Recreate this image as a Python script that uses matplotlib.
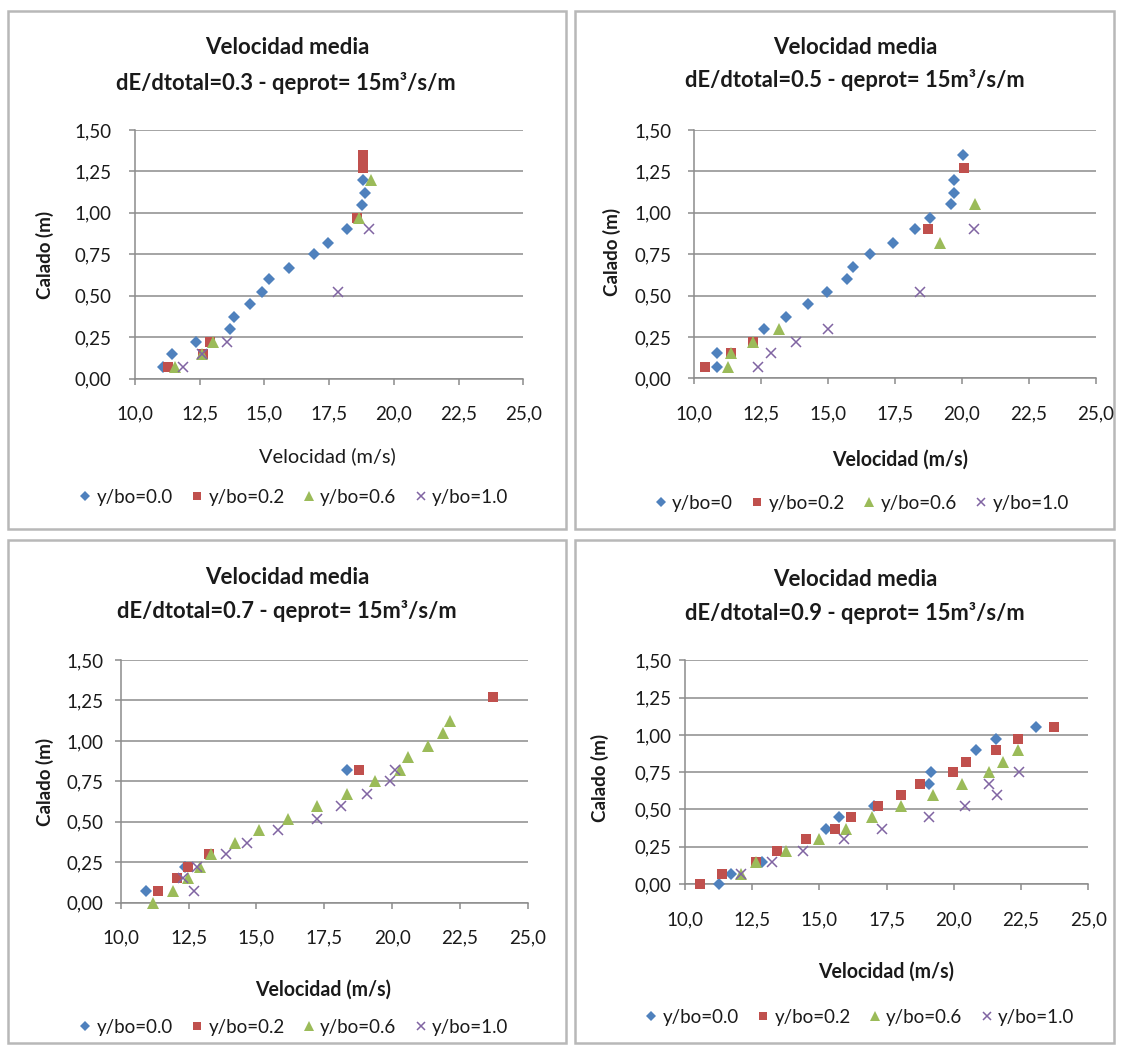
import matplotlib
matplotlib.use("Agg")
import matplotlib.pyplot as plt
from matplotlib.patches import Rectangle

plt.rcParams['font.family'] = ['Lato', 'DejaVu Sans']

# ---------------- data ----------------
x_ticks = [10.0, 12.5, 15.0, 17.5, 20.0, 22.5, 25.0]
x_ticklabels = ["10,0", "12,5", "15,0", "17,5", "20,0", "22,5", "25,0"]
y_ticks = [0.0, 0.25, 0.5, 0.75, 1.0, 1.25, 1.5]
y_ticklabels = ["0,00", "0,25", "0,50", "0,75", "1,00", "1,25", "1,50"]

ratios = ["0.3", "0.5", "0.7", "0.9"]
series_labels_a = ["y/bo=0.0", "y/bo=0.2", "y/bo=0.6", "y/bo=1.0"]
series_labels_b = ["y/bo=0", "y/bo=0.2", "y/bo=0.6", "y/bo=1.0"]

# dE/dtotal = 0.3
p03_b_v = [11.09, 11.42, 12.36, 13.67, 13.82, 14.43, 14.89, 15.18, 15.94, 16.91, 17.44, 18.20, 18.77, 18.90, 18.82]
p03_b_d = [0.07, 0.15, 0.22, 0.30, 0.37, 0.45, 0.52, 0.60, 0.67, 0.75, 0.82, 0.90, 1.05, 1.12, 1.20]
p03_r_v = [11.29, 12.64, 12.90, 18.56, 18.82, 18.82, 18.82]
p03_r_d = [0.07, 0.15, 0.22, 0.97, 1.27, 1.31, 1.35]
p03_g_v = [11.55, 12.58, 13.03, 18.66, 19.10]
p03_g_d = [0.07, 0.15, 0.22, 0.97, 1.20]
p03_p_v = [11.84, 12.58, 13.54, 17.83, 19.03]
p03_p_d = [0.07, 0.15, 0.22, 0.52, 0.90]

# dE/dtotal = 0.5
p05_b_v = [10.87, 10.87, 12.61, 13.45, 14.26, 14.97, 15.71, 15.96, 16.56, 17.43, 18.27, 18.82, 19.59, 19.72, 19.72, 20.06]
p05_b_d = [0.07, 0.15, 0.30, 0.37, 0.45, 0.52, 0.60, 0.67, 0.75, 0.82, 0.90, 0.97, 1.05, 1.12, 1.20, 1.35]
p05_r_v = [10.44, 11.39, 12.20, 18.73, 20.07]
p05_r_d = [0.07, 0.15, 0.22, 0.90, 1.27]
p05_g_v = [11.30, 11.40, 12.20, 13.19, 19.17, 20.50]
p05_g_d = [0.07, 0.15, 0.22, 0.30, 0.82, 1.05]
p05_p_v = [12.39, 12.88, 13.82, 15.00, 18.45, 20.47]
p05_p_d = [0.07, 0.15, 0.22, 0.30, 0.52, 0.90]

# dE/dtotal = 0.7
p07_b_v = [10.93, 12.37, 18.35]
p07_b_d = [0.07, 0.22, 0.82]
p07_r_v = [11.39, 12.06, 12.47, 13.26, 18.79, 23.72]
p07_r_d = [0.07, 0.15, 0.22, 0.30, 0.82, 1.27]
p07_g_v = [11.20, 11.91, 12.49, 12.92, 13.31, 14.21, 15.10, 16.17, 17.22, 18.32, 19.38, 20.29, 20.59, 21.33, 21.88, 22.13]
p07_g_d = [0.00, 0.07, 0.15, 0.22, 0.30, 0.37, 0.45, 0.52, 0.60, 0.67, 0.75, 0.82, 0.90, 0.97, 1.05, 1.12]
p07_p_v = [12.70, 12.28, 12.80, 13.88, 14.64, 15.80, 17.24, 18.10, 19.06, 19.92, 20.10]
p07_p_d = [0.07, 0.15, 0.22, 0.30, 0.37, 0.45, 0.52, 0.60, 0.67, 0.75, 0.82]

# dE/dtotal = 0.9
p09_b_v = [11.28, 11.70, 12.85, 15.23, 15.72, 17.04, 19.08, 19.15, 20.82, 21.56, 23.05]
p09_b_d = [0.00, 0.07, 0.15, 0.37, 0.45, 0.52, 0.67, 0.75, 0.90, 0.97, 1.05]
p09_r_v = [10.56, 11.39, 12.64, 13.41, 14.49, 15.58, 16.16, 17.19, 18.05, 18.74, 19.95, 20.45, 21.56, 22.37, 23.73]
p09_r_d = [0.00, 0.07, 0.15, 0.22, 0.30, 0.37, 0.45, 0.52, 0.60, 0.67, 0.75, 0.82, 0.90, 0.97, 1.05]
p09_g_v = [12.08, 12.64, 13.75, 14.99, 15.97, 16.96, 18.03, 19.23, 20.32, 21.30, 21.81, 22.37]
p09_g_d = [0.07, 0.15, 0.22, 0.30, 0.37, 0.45, 0.52, 0.60, 0.67, 0.75, 0.82, 0.90]
p09_p_v = [12.08, 13.22, 14.40, 15.92, 17.31, 19.08, 20.43, 21.61, 21.30, 22.43]
p09_p_d = [0.07, 0.15, 0.22, 0.30, 0.37, 0.45, 0.52, 0.60, 0.67, 0.75]

# ---------------- layout (pixels) ----------------
W, H = 1123, 1052
fig = plt.figure(figsize=(W / 100, H / 100), dpi=100)
fig.patch.set_facecolor('white')

def fx(p):
    return p / W

def fy(p):
    return 1 - p / H

COLORS = ['#4F81BD', '#C0504D', '#9BBB59', '#8064A2']
GRAY = '#8C8C8C'
TXT = '#1a1a1a'

panels = [
    dict(series=[(p03_b_v, p03_b_d), (p03_r_v, p03_r_d), (p03_g_v, p03_g_d), (p03_p_v, p03_p_d)],
         labels=series_labels_a, ratio=ratios[0],
         box=(8, 11, 566, 529), ax=(135, 130, 523.3, 378.5),
         t1=(287, 47), t2=(286, 83), ylab=(45, 255), xlab=(327, 456), xbold=False,
         leg=(294, 497), ypad=17),
    dict(series=[(p05_b_v, p05_b_d), (p05_r_v, p05_r_d), (p05_g_v, p05_g_d), (p05_p_v, p05_p_d)],
         labels=series_labels_b, ratio=ratios[1],
         box=(575, 11, 1114, 529), ax=(693.5, 130, 1096, 378.3),
         t1=(855, 47), t2=(855, 80), ylab=(612, 252), xlab=(900, 460), xbold=True,
         leg=(862, 503), ypad=16),
    dict(series=[(p07_b_v, p07_b_d), (p07_r_v, p07_r_d), (p07_g_v, p07_g_d), (p07_p_v, p07_p_d)],
         labels=series_labels_a, ratio=ratios[2],
         box=(8, 540, 566, 1043), ax=(120.7, 660, 527.9, 902.7),
         t1=(287, 578), t2=(287, 611), ylab=(45, 782), xlab=(323, 990), xbold=True,
         leg=(294, 1027), ypad=11),
    dict(series=[(p09_b_v, p09_b_d), (p09_r_v, p09_r_d), (p09_g_v, p09_g_d), (p09_p_v, p09_p_d)],
         labels=series_labels_a, ratio=ratios[3],
         box=(575, 540, 1114, 1043), ax=(685, 660.4, 1088.3, 884),
         t1=(855, 580), t2=(855, 613), ylab=(600, 778), xlab=(886, 972), xbold=True,
         leg=(860, 1017), ypad=7),
]

markers = [dict(marker='D', ms=6.3, mew=0),
           dict(marker='s', ms=7.8, mew=0),
           dict(marker='^', ms=8.8, mew=0),
           dict(marker='x', ms=7.8, mew=1.1)]

renderer = fig.canvas.get_renderer()

def fit(t, target_w):
    bb = t.get_window_extent(renderer)
    t.set_fontsize(t.get_fontsize() * target_w / bb.width)

for p in panels:
    bx0, by0, bx1, by1 = p['box']
    fig.add_artist(Rectangle((fx(bx0), fy(by1)), (bx1 - bx0) / W, (by1 - by0) / H,
                             transform=fig.transFigure, fill=False,
                             edgecolor='#B8B8B8', lw=1.8, zorder=0))
    l, t, r, b = p['ax']
    ax = fig.add_axes([fx(l), fy(b), (r - l) / W, (b - t) / H])
    ax.set_xlim(10, 25)
    ax.set_ylim(0, 1.5)
    for (v, d), c, m, lab in zip(p['series'], COLORS, markers, p['labels']):
        ax.plot(v, d, linestyle='none', color=c, markerfacecolor=c,
                markeredgecolor=c, label=lab, clip_on=False, zorder=3, **m)
    ax.set_xticks(x_ticks)
    ax.set_xticklabels(x_ticklabels)
    ax.set_yticks(y_ticks)
    ax.set_yticklabels(y_ticklabels)
    ax.grid(axis='y', color=GRAY, lw=1.1, zorder=0)
    ax.set_axisbelow(True)
    for s in ['top', 'right']:
        ax.spines[s].set_visible(False)
    for s in ['left', 'bottom']:
        ax.spines[s].set_color(GRAY)
        ax.spines[s].set_linewidth(1.1)
    ax.tick_params(axis='both', direction='out', length=4.5, width=1.1, color=GRAY,
                   labelsize=13.5, labelcolor=TXT)
    ax.tick_params(axis='x', pad=15)
    ax.tick_params(axis='y', pad=p['ypad'] * 0.72)

    tt1 = fig.text(fx(p['t1'][0]), fy(p['t1'][1]), "Velocidad media", ha='center', va='center',
                   fontsize=15, fontweight='bold', color=TXT)
    fit(tt1, 165)
    tt2 = fig.text(fx(p['t2'][0]), fy(p['t2'][1]),
                   "dE/dtotal=" + p['ratio'] + " - qeprot= 15m³/s/m",
                   ha='center', va='center', fontsize=15, fontweight='bold', color=TXT)
    fit(tt2, 340)
    yl = fig.text(fx(p['ylab'][0]), fy(p['ylab'][1]), "Calado (m)", rotation=90,
                  ha='center', va='center', fontsize=13.5, fontweight='bold', color=TXT)
    xl = fig.text(fx(p['xlab'][0]), fy(p['xlab'][1]), "Velocidad (m/s)", ha='center', va='center',
                  fontsize=13, fontweight='bold' if p['xbold'] else 'normal', color=TXT)
    fit(xl, 136)
    leg = ax.legend(loc='center', bbox_to_anchor=(fx(p['leg'][0]), fy(p['leg'][1])),
                    bbox_transform=fig.transFigure, ncol=4, frameon=False,
                    fontsize=13.5, markerscale=0.75, handlelength=0.6, handletextpad=0.3,
                    columnspacing=1.0, borderpad=0, borderaxespad=0)
    for txt in leg.get_texts():
        txt.set_color(TXT)

fig.savefig("out.png", dpi=100, facecolor='white')
